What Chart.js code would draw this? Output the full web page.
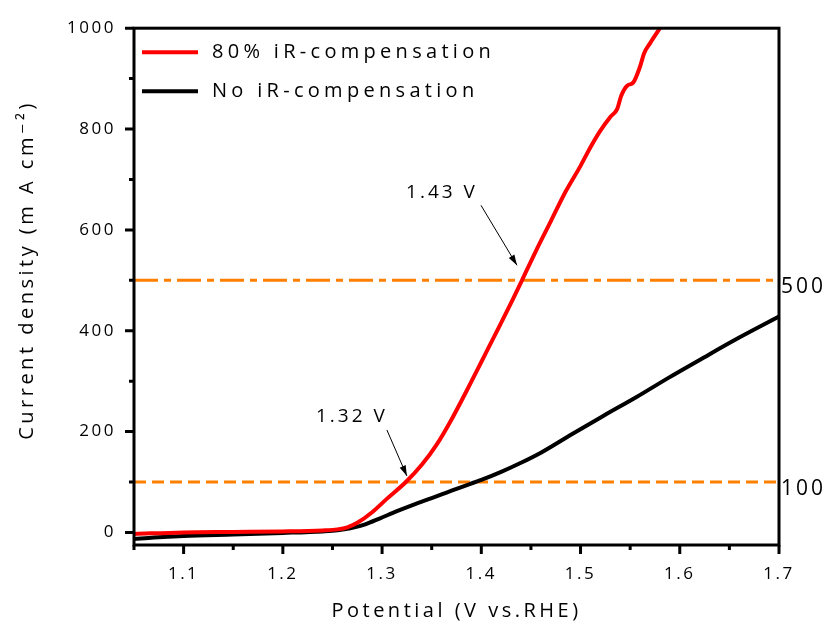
<!DOCTYPE html>
<html>
<head>
<meta charset="utf-8">
<script src="https://cdn.jsdelivr.net/npm/chart.js@4.4.1/dist/chart.umd.min.js"></script>
<style>
  html, body { margin: 0; padding: 0; background: #fff; }
  #wrap { width: 830px; height: 637px; }
</style>
</head>
<body>
<div id="wrap"><canvas id="canvas-lsv"></canvas></div>
<script>
// LSV data
var potential_comp = [1.05, 1.10, 1.15, 1.20, 1.24, 1.255, 1.265, 1.275, 1.29, 1.305, 1.324, 1.34, 1.355, 1.37, 1.385, 1.40, 1.416, 1.432, 1.441, 1.455, 1.47, 1.485, 1.500, 1.510, 1.520, 1.530, 1.537, 1.541, 1.547, 1.553, 1.560, 1.564, 1.570, 1.580];
var current_comp   = [-3, 0, 1, 2, 4, 6, 10, 19, 40, 67, 100, 134, 174, 224, 280, 338, 400, 463, 500, 558, 617, 676, 727, 764, 797, 824, 840, 866, 886, 892, 924, 950, 970, 1000];

var potential_raw = [1.05, 1.07, 1.10, 1.15, 1.20, 1.24, 1.255, 1.268, 1.283, 1.298, 1.315, 1.332, 1.35, 1.365, 1.38, 1.40, 1.42, 1.44, 1.46, 1.489, 1.522, 1.556, 1.589, 1.62, 1.654, 1.70];
var current_raw   = [-13, -10, -7, -4, -1, 2, 4, 8, 16, 28, 42, 55, 68, 79, 90, 104, 120, 138, 158, 192, 230, 268, 307, 342, 380, 428];

var series_labels = ['80% iR-compensation', 'No iR-compensation'];
var series_colors = ['#ff0000', '#000000'];

var ref_levels = [100, 500];
var ref_labels = ['100', '500'];

var x_ticks = [1.1, 1.2, 1.3, 1.4, 1.5, 1.6, 1.7];
var x_minor = [1.05, 1.15, 1.25, 1.35, 1.45, 1.55, 1.65];
var y_ticks = [0, 200, 400, 600, 800, 1000];
var y_minor = [100, 300, 500, 700, 900];

var marks = [
  { text: '1.32 V', v: 1.324, j: 100 },
  { text: '1.43 V', v: 1.441, j: 500 }
];

var fontFamily = "'Open Sans', 'DejaVu Sans', sans-serif";
var orange = '#ff8000';

var toPoints = function(xs, ys) {
  return xs.map(function(x, i) { return { x: x, y: ys[i] }; });
};

var refDash = [[12, 6], [24, 6, 7, 6]];

var datasets = [
  {
    label: series_labels[0],
    data: toPoints(potential_comp, current_comp),
    borderColor: series_colors[0],
    borderWidth: 4,
    pointRadius: 0,
    cubicInterpolationMode: 'monotone'
  },
  {
    label: series_labels[1],
    data: toPoints(potential_raw, current_raw),
    borderColor: series_colors[1],
    borderWidth: 4,
    pointRadius: 0,
    cubicInterpolationMode: 'monotone'
  }
];
ref_levels.forEach(function(level, i) {
  datasets.push({
    label: 'ref' + level,
    data: [{ x: 1.05, y: level }, { x: 1.7, y: level }],
    borderColor: orange,
    borderWidth: 3,
    borderDash: refDash[i],
    pointRadius: 0
  });
});

// axes frame, tick marks, legend, annotations
var decorations = {
  id: 'decorations',
  beforeDraw: function(chart) {
    chart.ctx.letterSpacing = '2.5px';
  },
  afterDraw: function(chart) {
    var ctx = chart.ctx, area = chart.chartArea;
    var xs = chart.scales.x, ys = chart.scales.y;
    ctx.save();
    ctx.strokeStyle = '#000';
    ctx.lineWidth = 3;
    ctx.strokeRect(area.left, area.top, area.right - area.left, area.bottom - area.top);

    ctx.beginPath();
    x_ticks.forEach(function(v) {
      var p = xs.getPixelForValue(v);
      ctx.moveTo(p, area.bottom); ctx.lineTo(p, area.bottom + 9);
    });
    x_minor.forEach(function(v) {
      var p = xs.getPixelForValue(v);
      ctx.moveTo(p, area.bottom); ctx.lineTo(p, area.bottom + 5);
    });
    y_ticks.forEach(function(v) {
      var p = ys.getPixelForValue(v);
      ctx.moveTo(area.left, p); ctx.lineTo(area.left - 9, p);
    });
    y_minor.forEach(function(v) {
      var p = ys.getPixelForValue(v);
      ctx.moveTo(area.left, p); ctx.lineTo(area.left - 5, p);
    });
    ctx.stroke();

    // axis titles
    ctx.fillStyle = '#000';
    ctx.textAlign = 'center';
    ctx.textBaseline = 'middle';
    ctx.font = '20px ' + fontFamily;
    ctx.letterSpacing = '3.5px';
    ctx.fillText('Potential (V vs.RHE)', (area.left + area.right) / 2, 611);
    ctx.save();
    ctx.translate(27, 270);
    ctx.rotate(-Math.PI / 2);
    ctx.fillText('Current density (m A cm\u207B\u00B2)', 0, 0);
    ctx.restore();

    // legend
    ctx.textAlign = 'left';
    ctx.lineWidth = 4;
    ctx.letterSpacing = '4.3px';
    series_labels.forEach(function(lbl, i) {
      var y = area.top + 24 + i * 39;
      ctx.strokeStyle = series_colors[i];
      ctx.beginPath();
      ctx.moveTo(area.left + 8, y); ctx.lineTo(area.left + 64, y);
      ctx.stroke();
      ctx.fillStyle = '#000';
      ctx.fillText(lbl, area.left + 78, y);
    });

    // right side level labels
    ctx.font = '21px ' + fontFamily;
    ctx.letterSpacing = '3px';
    ref_levels.forEach(function(level, i) {
      ctx.fillText(ref_labels[i], area.right + 2, ys.getPixelForValue(level) + 7);
    });

    // potential annotations with arrows
    var offs = [
      { tx: -54, ty: -65, sx: -19, sy: -52, ex: 1, ey: -6 },
      { tx: -80, ty: -88, sx: -41, sy: -75, ex: -5, ey: -15 }
    ];
    ctx.font = '19px ' + fontFamily;
    ctx.letterSpacing = '3px';
    ctx.textAlign = 'center';
    ctx.lineWidth = 1;
    ctx.strokeStyle = '#000';
    marks.forEach(function(m, i) {
      var px = xs.getPixelForValue(m.v), py = ys.getPixelForValue(m.j), o = offs[i];
      ctx.fillText(m.text, px + o.tx, py + o.ty);
      var x0 = px + o.sx, y0 = py + o.sy, x1 = px + o.ex, y1 = py + o.ey;
      ctx.beginPath();
      ctx.moveTo(x0, y0); ctx.lineTo(x1, y1);
      ctx.stroke();
      var a = Math.atan2(y1 - y0, x1 - x0);
      ctx.beginPath();
      ctx.moveTo(x1, y1);
      ctx.lineTo(x1 - 11 * Math.cos(a - 0.3), y1 - 11 * Math.sin(a - 0.3));
      ctx.lineTo(x1 - 11 * Math.cos(a + 0.3), y1 - 11 * Math.sin(a + 0.3));
      ctx.closePath();
      ctx.fill();
    });
    ctx.restore();
  }
};

Chart.defaults.font.family = fontFamily;
Chart.defaults.color = '#000';

var lsvChart = new Chart(document.getElementById('canvas-lsv'), {
  type: 'line',
  data: { datasets: datasets },
  options: {
    responsive: true,
    maintainAspectRatio: false,
    animation: false,
    layout: { padding: { top: 24, right: 51, left: 0, bottom: 0 } },
    plugins: { legend: { display: false }, tooltip: { enabled: false } },
    scales: {
      x: {
        type: 'linear',
        min: 1.05,
        max: 1.7,
        grid: { display: false, drawTicks: false },
        border: { display: false },
        afterBuildTicks: function(scale) {
          scale.ticks = x_ticks.map(function(v) { return { value: v }; });
        },
        afterFit: function(scale) { scale.height = 92; },
        ticks: {
          padding: 19,
          font: { size: 17 },
          maxRotation: 0,
          callback: function(v) { return v.toFixed(1); }
        }
      },
      y: {
        type: 'linear',
        min: -25,
        max: 1000,
        grid: { display: false, drawTicks: false },
        border: { display: false },
        afterBuildTicks: function(scale) {
          scale.ticks = y_ticks.map(function(v) { return { value: v }; });
        },
        afterFit: function(scale) { scale.width = 134; },
        ticks: {
          padding: 18,
          font: { size: 17 },
          callback: function(v) { return String(v); }
        }
      }
    }
  },
  plugins: [decorations]
});
</script>
</body>
</html>
